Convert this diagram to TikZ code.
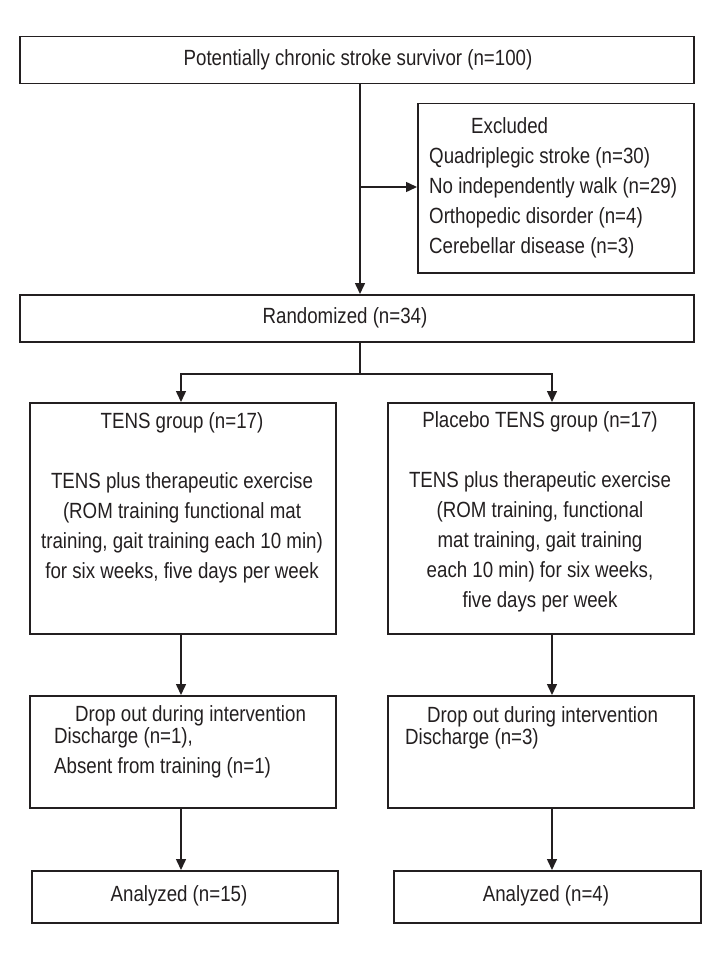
\documentclass[tikz,border=0pt]{standalone}
\usepackage{fontspec}
\setmainfont[FakeStretch=0.85]{Liberation Sans}
\usetikzlibrary{arrows.meta}
\definecolor{ink}{HTML}{231F20}
\tikzstyle{box}=[draw=ink,line width=1.5pt,anchor=north west,inner sep=0pt]
\tikzstyle{txt}=[inner sep=0pt,font=\fontsize{22}{30}\selectfont,text=ink]
\tikzstyle{arrow}=[draw=ink,line width=1.5pt,-{Triangle[length=11pt,width=10pt]}]
\tikzstyle{line}=[draw=ink,line width=1.5pt]

\begin{document}
\begin{tikzpicture}[x=1pt,y=-1pt]
    \useasboundingbox (0,0) rectangle (720,960);
    % boites
    \foreach \pos/\w/\h/\name in {{(19,36)/674/47/top}, {(417,103)/276/169/excl}, {(19,294)/674/47/rand}, {(29,402)/306/231/tens}, {(387,402)/306/231/plac}, {(29,695)/306/112/dropA}, {(387,695)/306/112/dropB}, {(31,870)/306/52/anaA}, {(393,870)/307/52/anaB}}
        \node[box,minimum width=\w pt,minimum height=\h pt] (\name) at \pos {};
    % textes
    \node[txt] (toptxt) at (358,60) {Potentially chronic stroke survivor (n=100)};
    \node[txt,anchor=west,align=left] (excltxt) at (429,188) {\hspace*{42pt}Excluded\\ Quadriplegic stroke (n=30)\\ No independently walk (n=29)\\ Orthopedic disorder (n=4)\\ Cerebellar disease (n=3)};
    \node[txt] (randtxt) at (345,318) {Randomized (n=34)};
    \node[txt,align=center] (tenstxt) at (182,498) {TENS group (n=17)\\[30pt] TENS plus therapeutic exercise\\ (ROM training functional mat\\ training, gait training each 10 min)\\ for six weeks, five days per week};
    \node[txt,align=center] (plactxt) at (540,512) {Placebo TENS group (n=17)\\[30pt] TENS plus therapeutic exercise\\ (ROM training, functional\\ mat training, gait training\\ each 10 min) for six weeks,\\ five days per week};
    \node[txt,anchor=west,align=left] (dropAtxt) at (54,742) {\hspace*{21pt}Drop out during intervention\\[-8pt] Discharge (n=1),\\ Absent from training (n=1)};
    \node[txt,anchor=west,align=left] (dropBtxt) at (405,728) {\hspace*{22pt}Drop out during intervention\\[-8pt] Discharge (n=3)};
    \node[txt] (anaAtxt) at (179,896) {Analyzed (n=15)};
    \node[txt] (anaBtxt) at (546,896) {Analyzed (n=4)};
    % points
    \coordinate (trunk) at (360,187);
    \coordinate (fork) at (360,374);
    \coordinate (lcol) at (181,374);
    \coordinate (rcol) at (552,374);
    % fleches
    \path[arrow] (top.south -| trunk) -- (rand.north -| trunk);
    \path[arrow] (trunk) -- (excl.west |- trunk);
    \path[line] (rand.south -| fork) -- (fork);
    \path[line,{Triangle[length=11pt,width=10pt]}-{Triangle[length=11pt,width=10pt]}] (tens.north -| lcol) -- (lcol) -- (rcol) -- (plac.north -| rcol);
    \foreach \source/\dest/\col in {tens/dropA/lcol, dropA/anaA/lcol, plac/dropB/rcol, dropB/anaB/rcol}
        \path[arrow] (\source.south -| \col) -- (\dest.north -| \col);
\end{tikzpicture}
\end{document}
